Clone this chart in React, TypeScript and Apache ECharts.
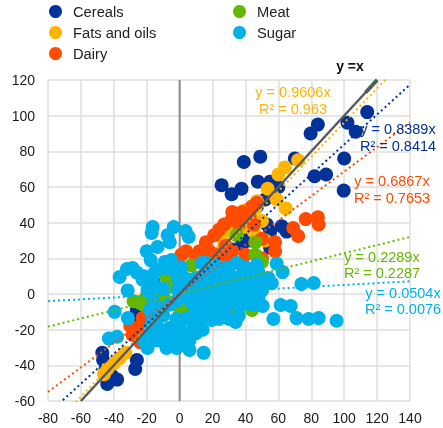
import React, { useEffect, useRef } from "react";
import * as echarts from "echarts";

const cereals = [[114,102],[102,96],[107,91],[84,95],[79.6,90],[100,76],[99.7,58],[82,66],[89,67],[70,76],[49,77],[39,74],[47.5,63],[55,63],[37.6,59],[31.6,56],[25.5,61],[55,35],[65,35],[53,39],[60,60],[52,53],[47,49],[40,36],[38,28],[55,26],[62,38],[-47,-33],[-46.5,-37],[-26,-37],[-27,-42],[-38,-48],[-44,-50.5],[-41,-46],[-45,-42],[-27,-12],[-26,-9],[-28,-16],[-16,7],[0,-12],[32,25],[25,12],[42,30]];
const fatsOils = [[72,75],[64,71],[60,67],[53.5,59],[59,53],[64.5,48],[50,41],[47,52],[46,48],[42,40],[37,36],[32,34],[25,34],[33,40],[40,47],[27,28],[24,23],[52,30],[45,35],[-36.5,-36],[-40,-39],[-44,-42],[-46,-45],[-33,-33]];
const dairy = [[76.6,42],[84,43],[84.5,39],[69,37],[72,32.5],[58,29],[58,24],[50,31],[38,46],[32,46],[31.6,41.5],[21,33],[16,29],[47,51],[44,49],[27,39],[36,39],[24,36],[42.6,44],[4,24],[1,22],[18,24],[24,22],[28,27],[32,24],[12,24],[10,20],[45,39],[40,22],[30,20],[50,20],[20,18],[-26,-19],[-28.6,-23],[-24,-27],[-22.5,-13.5],[-30,-18],[-20,-18]];
const meat = [[34.6,33],[46,29],[46,22],[50,18],[44,-9],[30,-9],[22,-9],[-24,-5],[-22,-6],[-20,-1],[-10,-2],[-8,9.5],[-6,4],[7,16],[0,-8],[22,9],[32,2],[25,14],[30,10],[-14,3],[6,8],[40,1],[-28,-4],[4,-8],[15,8]];
const sugar = [[-16.4,37.6],[-17,34.2],[-3.6,37.6],[3.6,35.3],[5.5,32],[-7.3,33],[-6,29],[-13.4,26.4],[-20,24],[-17.6,19],[-28.6,14.6],[-32,14],[-36.5,9.5],[-9,18],[-5,19],[1,15],[-15,12.3],[-22.5,8],[-16.4,9.5],[13.4,17.4],[16.4,11.8],[10,9],[-31.6,2],[-39.5,-10],[-31.5,-13.5],[-43,-25],[-38,-24],[14.6,-33],[6,-31.4],[-1.8,-30.3],[-8,-30.3],[-19.5,-30.3],[-21,-27.5],[-16.4,-23],[4.3,-24.7],[-6,-19],[-16.4,-13.5],[4.3,-13.5],[14,-11.8],[19.5,-14.6],[-6,-6],[-19.5,2.2],[-1.2,2.2],[10.3,-0.6],[20,1.1],[28.6,-2.2],[34.6,17.4],[46.8,16.3],[38,10.7],[59,17],[62.6,12.3],[54,9],[56,6],[50,6.7],[42.6,5.6],[36.5,5],[29,6],[22.5,11.8],[16.4,17.4],[18,0.6],[26,2.2],[32,-5],[38,-6],[44.4,-6.2],[50.5,-6.7],[61.4,-6.2],[67.5,-6.7],[57,-14],[71,-13.5],[78.4,-14],[84.5,-13.5],[95.4,-15],[34,-15.7],[74,5.6],[81.5,6.2],[27,-9],[21,-6],
  [-12,-20],[-8,-24],[-2,-24],[-12,-26],[0,-18],[8,-20],[-2,-14],[-10,-12],[8,-6],[14,-4],[6,-14],[-18,-19],[-12,-8],[4,-2],[8,4],[-6,14],[-1,8],[3,9],[14,-20],[-14,-26],[-22,10],[-26,12],[-12,14],[-2,12],[12,4],[14,10],[18,6],[24,-1],[30,-1],[42,-2],[48,-2],[14,-8],[16,-10],[12,-14],[24,-14],[30,-14],[-14,-17],[2,-22],[6,-26],[10,-22],[-4,-28],[0,-27],[-20,-24],[-14,4],[-10,3],[-2,-4],[4,5],[-18,-9],[-16,-4],[10,-11],
  [22,16],[30,12],[34,9],[44,10],[48,12],[34,0],[38,2],[44,2],[50,2],[24,6],[28,15],[40,15],[20,-10],[26,-4],[24,-10],[36,-12]];

const lineCereals = [[-80,-67.1],[140,117.4]];
const lineFats = [[-80,-76.8],[140,134.5]];
const lineDairy = [[-80,-54.9],[140,96.1]];
const lineMeat = [[-80,-18.3],[140,32]];
const lineSugar = [[-80,-4],[140,7.1]];
const lineIdentity = [[-60,-60],[120,120]];
const arrowTip = [[113,113],[120,120]];
const zeroLine = [[0,-60],[0,120]];

const xTicks = { min: -80, max: 140, interval: 20 };
const yTicks = { min: -60, max: 120, interval: 20 };

const BLUE = "#003299", YEL = "#FFB400", ORG = "#FF4B00", GRN = "#65B800", SKY = "#00B1EA";
const FONT = "Liberation Sans";

const labels: [string, number, number, string][] = [
  ["y = 0.9606x", 293, 92, YEL], ["R² = 0.963", 293, 109, YEL],
  ["y = 0.8389x", 398, 129, BLUE], ["R² = 0.8414", 398, 146, BLUE],
  ["y = 0.6867x", 392, 181, ORG], ["R² = 0.7653", 392, 198, ORG],
  ["y = 0.2289x", 382, 257, GRN], ["R² = 0.2287", 382, 273, GRN],
  ["y = 0.0504x", 403, 293, SKY], ["R² = 0.0076", 403, 309, SKY],
];

const scatter = (name: string, data: number[][], color: string) => ({
  name, type: "scatter", data, symbol: "circle", symbolSize: 14,
  itemStyle: { color, opacity: 1 }, clip: false,
});
const trend = (name: string, data: number[][], color: string) => ({
  name, type: "line", data, showSymbol: false, symbol: "none",
  lineStyle: { color, width: 2, type: [2, 3] }, z: 5,
});

export default function App() {
  const ref = useRef<HTMLDivElement>(null);
  useEffect(() => {
    const chart = echarts.init(ref.current!, undefined, { renderer: "svg" });
    const axisCommon = {
      type: "value", axisLine: { show: false }, axisTick: { show: false },
      splitLine: { show: true, lineStyle: { color: "#dedede", width: 1.5 } },
      axisLabel: { color: "#1a1a1a", fontFamily: FONT, fontSize: 14 },
    };
    const legendCommon = {
      orient: "vertical", icon: "circle", itemWidth: 13, itemHeight: 13, itemGap: 6,
      textStyle: { fontFamily: FONT, fontSize: 14.7, color: "#222", padding: [0, 0, 0, 6] },
      selectedMode: false, top: 4, padding: 0,
    };
    chart.setOption({
      animation: false,
      grid: { left: 48, right: 33, top: 80, bottom: 27 },
      xAxis: { ...axisCommon, ...xTicks, axisLabel: { ...axisCommon.axisLabel, margin: 10, showMinLabel: true, showMaxLabel: true } },
      yAxis: { ...axisCommon, ...yTicks, axisLabel: { ...axisCommon.axisLabel, margin: 13 } },
      legend: [
        { ...legendCommon, left: 49, data: ["Cereals", "Fats and oils", "Dairy"] },
        { ...legendCommon, left: 233, data: ["Meat", "Sugar"] },
      ],
      series: [
        { name: "zero", type: "line", data: zeroLine, showSymbol: false, symbol: "none", lineStyle: { color: "#8c8c8c", width: 2 }, z: 1 },
        scatter("Cereals", cereals, BLUE),
        scatter("Fats and oils", fatsOils, YEL),
        scatter("Dairy", dairy, ORG),
        scatter("Meat", meat, GRN),
        scatter("Sugar", sugar, SKY),
        trend("Cereals trend", lineCereals, BLUE),
        trend("Fats trend", lineFats, YEL),
        trend("Dairy trend", lineDairy, ORG),
        trend("Meat trend", lineMeat, GRN),
        trend("Sugar trend", lineSugar, SKY),
        { name: "tip", type: "line", data: arrowTip, showSymbol: false, symbol: "none", lineStyle: { color: "#1f7a3a", width: 4 }, z: 6 },
        { name: "y=x", type: "line", data: lineIdentity, showSymbol: false, symbol: "none", lineStyle: { color: "#595959", width: 2.5 }, z: 6 },
      ],
      graphic: [
        ...labels.map(([text, x, y, fill]) => ({
          type: "text", x, y, z: 20,
          style: { text, fill, fontFamily: FONT, fontSize: 14.5, textAlign: "center", textVerticalAlign: "middle" },
        })),
        { type: "text", x: 350, y: 66, z: 20, style: { text: "y =x", fill: "#111", fontFamily: FONT, fontSize: 14, fontWeight: "bold", textAlign: "center", textVerticalAlign: "middle" } },
      ],
    });
    return () => chart.dispose();
  }, []);
  return <div ref={ref} style={{ position: "fixed", left: 0, top: 0, width: 443, height: 428 }} />;
}
